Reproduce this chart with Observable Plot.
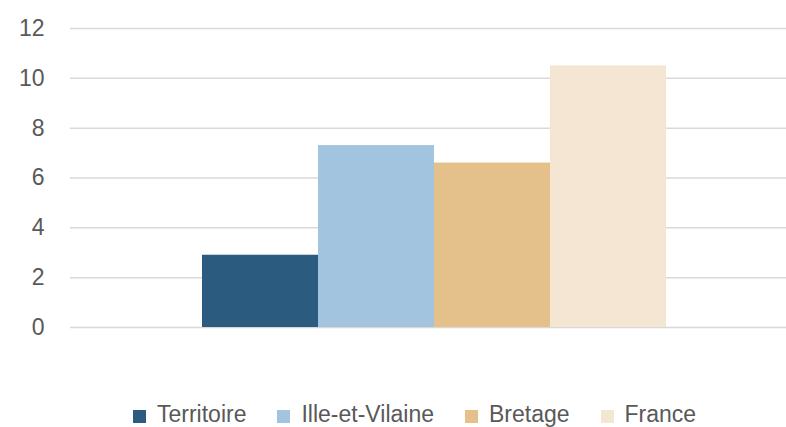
<!DOCTYPE html>
<html>
<head>
<meta charset="utf-8">
<script src="https://cdn.jsdelivr.net/npm/d3@7"></script>
<script src="https://cdn.jsdelivr.net/npm/@observablehq/plot@0.6"></script>
<style>
  html, body { margin: 0; padding: 0; background: #fff; }
  #chart { width: 786px; height: 427px; overflow: hidden; font-family: "Liberation Sans", Arial, sans-serif; }
  #legend { display: flex; align-items: center; box-sizing: border-box; height: 37px; padding-top: 12px; padding-left: 133px; font-size: 23px; color: #595959; }
  #legend .item { display: flex; align-items: center; margin-right: 31px; }
  #legend .sw { width: 13px; height: 13px; margin-right: 11px; margin-top: 3px; }
</style>
</head>
<body>
<div id="chart"></div>
<script>
const series = ["Territoire", "Ille-et-Vilaine", "Bretage", "France"];
const values = [2.9, 7.3, 6.6, 10.5];
const colors = ["#2b5c7f", "#a2c4df", "#e4c18b", "#f5e6d3"];
const yTicks = [0, 2, 4, 6, 8, 10, 12];

const data = series.map((s, i) => ({series: s, value: values[i]}));

const plot = Plot.plot({
  width: 786,
  height: 390,
  marginLeft: 70,
  marginRight: 0,
  marginTop: 28,
  marginBottom: 63,
  style: {fontFamily: "Liberation Sans, Arial, sans-serif", fontSize: "23px", color: "#595959", background: "#fff"},
  x: {domain: series, range: [200, 667], padding: 0, axis: null},
  y: {domain: [0, 12], ticks: yTicks, label: null},
  color: {domain: series, range: colors},
  marks: [
    Plot.ruleY(yTicks, {stroke: "#d9d9d9", strokeWidth: 1.5}),
    Plot.axisY(yTicks, {tickSize: 0, tickPadding: 26, label: null, fill: "#595959", fontSize: 23}),
    Plot.barY(data, {x: "series", y: "value", fill: "series"})
  ]
});

const chart = document.getElementById("chart");
chart.appendChild(plot);

const legend = document.createElement("div");
legend.id = "legend";
series.forEach((s, i) => {
  const item = document.createElement("div");
  item.className = "item";
  const sw = document.createElement("span");
  sw.className = "sw";
  sw.style.background = colors[i];
  const t = document.createElement("span");
  t.textContent = s;
  item.appendChild(sw);
  item.appendChild(t);
  legend.appendChild(item);
});
chart.appendChild(legend);
</script>
</body>
</html>
